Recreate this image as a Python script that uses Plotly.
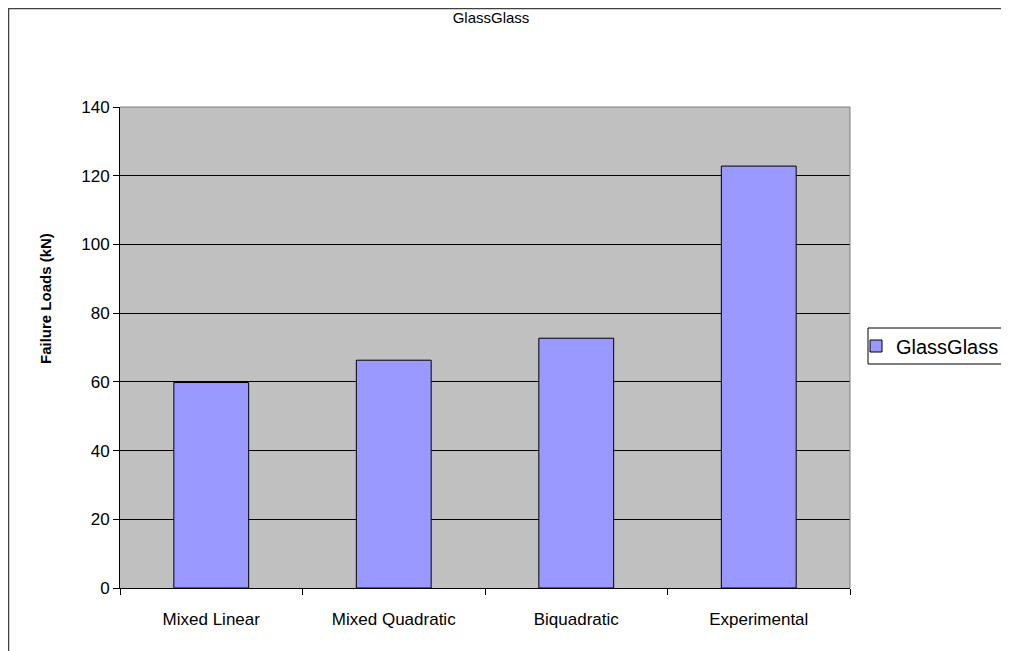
import plotly.graph_objects as go

categories = ["Mixed Linear", "Mixed Quadratic", "Biquadratic", "Experimental"]
values = [59.8, 66.3, 72.7, 122.8]
series_name = "GlassGlass"
y_ticks = [0, 20, 40, 60, 80, 100, 120, 140]
y_title = "Failure Loads (kN)"

# page offset (browser body margin)
OFF = 8
SW, SH = 1009, 651            # screen size
W, H = SW - OFF, SH - OFF     # figure size
# plot area in screen pixels
L, R, T, B = 120, 850, 107, 588
pw, ph = R - L, B - T


def px_x(x):
    return (x - L) / pw


def px_y(y):
    return (B - y) / ph


fig = go.Figure()
fig.add_trace(go.Bar(
    x=categories, y=values, name=series_name,
    marker=dict(color="#9999FF", line=dict(color="black", width=1)),
    showlegend=True,
))

font = "Liberation Sans, Arial, sans-serif"
fig.update_layout(
    width=W, height=H, autosize=False,
    margin=dict(l=L - OFF, r=SW - R, t=T - OFF, b=SH - B, pad=0, autoexpand=False),
    paper_bgcolor="white", plot_bgcolor="#C0C0C0",
    font=dict(family=font, size=17, color="black"),
    title=dict(text="GlassGlass", x=(491 - OFF) / W, xref="container", xanchor="center",
               y=1 - (18 - OFF) / H, yref="container", yanchor="middle",
               font=dict(size=15)),
    bargap=0.59,
    showlegend=True,
    legend=dict(x=px_x(856), xanchor="left", y=px_y(346), yanchor="middle",
                borderwidth=0, bgcolor="rgba(0,0,0,0)",
                font=dict(size=20), itemwidth=30),
    xaxis=dict(
        type="category", showgrid=False, showline=True, linecolor="black", linewidth=1,
        ticks="outside", tickson="boundaries", ticklen=6, tickcolor="black",
        ticklabelstandoff=16, zeroline=False,
    ),
    yaxis=dict(
        range=[0, 140], tickvals=y_ticks, ticktext=[str(v) for v in y_ticks],
        showgrid=True, gridcolor="black", gridwidth=1,
        showline=True, linecolor="black", linewidth=1,
        ticks="outside", ticklen=6, tickcolor="black", zeroline=False,
    ),
    annotations=[
        dict(text="<b>" + y_title + "</b>", xref="paper", yref="paper",
             x=px_x(45), y=px_y(299), xanchor="center", yanchor="middle",
             textangle=-90, showarrow=False, font=dict(size=15)),
    ],
    shapes=[
        # outer chart border
        dict(type="rect", xref="paper", yref="paper", x0=px_x(OFF + 0.5), x1=px_x(1015),
             y0=px_y(660), y1=px_y(OFF + 0.5), line=dict(color="#404040", width=1.5),
             layer="below"),
        # plot area border (top and right)
        dict(type="line", xref="paper", yref="paper", x0=0, x1=1, y0=1, y1=1,
             line=dict(color="#808080", width=1)),
        dict(type="line", xref="paper", yref="paper", x0=1, x1=1, y0=0, y1=1,
             line=dict(color="#808080", width=1)),
        # legend box
        dict(type="rect", xref="paper", yref="paper", x0=px_x(868), x1=px_x(1015),
             y0=px_y(364), y1=px_y(328), line=dict(color="black", width=1)),
    ],
)

fig.write_html("out.html")
